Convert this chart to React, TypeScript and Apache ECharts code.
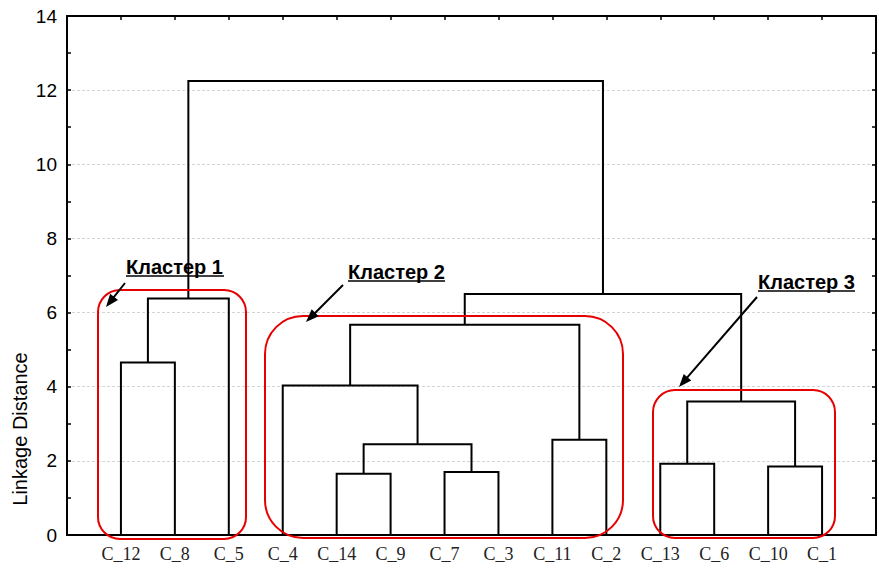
import React, { useEffect, useRef } from "react";
import * as echarts from "echarts";

const leafNames = ["C_12", "C_8", "C_5", "C_4", "C_14", "C_9", "C_7", "C_3", "C_11", "C_2", "C_13", "C_6", "C_10", "C_1"];
// merges: [leftNode, rightNode, height]; leaves are 0..13, merge k creates node 14+k
const mergeLeft = [0, 14, 4, 6, 16, 3, 8, 19, 10, 12, 22, 21, 15];
const mergeRight = [1, 2, 5, 7, 17, 18, 9, 20, 11, 13, 23, 24, 25];
const mergeHeight = [4.65, 6.38, 1.65, 1.7, 2.45, 4.03, 2.57, 5.67, 1.92, 1.85, 3.6, 6.5, 12.25];
const yTicks = [0, 2, 4, 6, 8, 10, 12, 14];
const clusterLabels = ["Кластер 1", "Кластер 2", "Кластер 3"];
const yAxisTitle = "Linkage Distance";

function buildSegments() {
  const nodeX: number[] = leafNames.map((_, i) => i);
  const nodeH: number[] = leafNames.map(() => 0);
  const segs: number[][] = [];
  for (let k = 0; k < mergeLeft.length; k++) {
    const a = mergeLeft[k], b = mergeRight[k], h = mergeHeight[k];
    segs.push([nodeX[a], nodeX[b], nodeH[a], nodeH[b], h]);
    nodeX.push((nodeX[a] + nodeX[b]) / 2);
    nodeH.push(h);
  }
  return segs;
}

function arrow(x1: number, y1: number, x2: number, y2: number) {
  const dx = x2 - x1, dy = y2 - y1;
  const len = Math.sqrt(dx * dx + dy * dy);
  const ux = dx / len, uy = dy / len;
  const hl = 13, hw = 5;
  const bx = x2 - ux * hl, by = y2 - uy * hl;
  return [
    { type: "line", z: 100, shape: { x1, y1, x2: bx + ux * 2, y2: by + uy * 2 }, style: { stroke: "#000", lineWidth: 2 } },
    {
      type: "polygon", z: 100,
      shape: { points: [[x2, y2], [bx - uy * hw, by + ux * hw], [bx + uy * hw, by - ux * hw]] },
      style: { fill: "#000" },
    },
  ];
}

function label(text: string, x: number, y: number, w: number) {
  return [
    { type: "text", z: 100, x, y, style: { text, font: "bold 20px 'Liberation Sans', Arial, sans-serif", fill: "#000", textAlign: "left", textVerticalAlign: "middle" } },
    { type: "line", z: 100, shape: { x1: x, y1: y + 9, x2: x + w, y2: y + 9 }, style: { stroke: "#000", lineWidth: 1.5 } },
  ];
}

function roundRect(x: number, y: number, w: number, h: number, r: number) {
  return { type: "rect", z: 90, shape: { x, y, width: w, height: h, r }, style: { fill: "none", stroke: "#e60000", lineWidth: 2 } };
}

export default function App() {
  const ref = useRef<HTMLDivElement>(null);
  useEffect(() => {
    document.body.style.margin = "0";
    const chart = echarts.init(ref.current!, null, { renderer: "svg" });
    const segs = buildSegments();
    const yAxisCommon = {
      type: "value", min: 0, max: 14, interval: 2,
      axisLine: { show: true, onZero: false, lineStyle: { color: "#000", width: 2 } },
      axisTick: { show: true, inside: true, length: 4, lineStyle: { color: "#000", width: 1.5 } },
      minorTick: { show: true, splitNumber: 2, length: 4, lineStyle: { color: "#000", width: 1.5 } },
    };
    chart.setOption({
      animation: false,
      backgroundColor: "#fff",
      grid: { left: 67, top: 16, right: 1, bottom: 33, containLabel: false },
      xAxis: [
        {
          type: "value", min: -1, max: 14, interval: 1, position: "bottom",
          axisLine: { show: true, onZero: false, lineStyle: { color: "#000", width: 2 } },
          axisTick: { show: false },
          splitLine: { show: false },
          axisLabel: {
            margin: 10, color: "#222", fontFamily: "'Liberation Serif', 'Times New Roman', serif", fontSize: 18,
            showMinLabel: true, showMaxLabel: true,
            formatter: (v: number) => (v >= 0 && v < leafNames.length ? leafNames[v] : ""),
          },
        },
        {
          type: "value", min: -1, max: 14, interval: 1, position: "top",
          axisLine: { show: true, onZero: false, lineStyle: { color: "#000", width: 2 } },
          axisTick: { show: true, inside: true, length: 4, lineStyle: { color: "#000", width: 1.5 } },
          axisLabel: { show: false },
          splitLine: { show: false },
        },
      ],
      yAxis: [
        {
          ...yAxisCommon, position: "left",
          axisLabel: { margin: 10, color: "#000", fontFamily: "'Liberation Sans', Arial, sans-serif", fontSize: 19, formatter: (v: number) => (yTicks.includes(v) ? String(v) : "") },
          splitLine: { show: true, lineStyle: { color: "#d4d4d4", width: 1, type: [3, 2] } },
        },
        {
          ...yAxisCommon, position: "right",
          axisLabel: { show: false },
          splitLine: { show: false },
        },
      ],
      series: [
        {
          type: "custom",
          xAxisIndex: 0, yAxisIndex: 0,
          data: segs,
          encode: { x: [0, 1], y: [2, 3, 4] },
          renderItem: (params: any, api: any) => {
            const x1 = api.value(0), x2 = api.value(1), h1 = api.value(2), h2 = api.value(3), h = api.value(4);
            const pts = [api.coord([x1, h1]), api.coord([x1, h]), api.coord([x2, h]), api.coord([x2, h2])];
            return { type: "polyline", shape: { points: pts }, style: { stroke: "#000", lineWidth: 2, fill: "none" } };
          },
        },
      ],
      graphic: [
        {
          type: "text", x: 20, y: 429, rotation: Math.PI / 2,
          style: { text: yAxisTitle, font: "20px 'Liberation Sans', Arial, sans-serif", fill: "#000", textAlign: "center", textVerticalAlign: "middle" },
        },
        roundRect(98, 290, 148, 249, 22),
        roundRect(265, 316, 358, 222, 38),
        roundRect(653, 390, 182, 148, 22),
        ...label(clusterLabels[0], 126, 267, 98),
        ...label(clusterLabels[1], 348, 272, 97),
        ...label(clusterLabels[2], 758, 282, 97),
        ...arrow(125, 283, 106, 307),
        ...arrow(343, 285, 306, 322),
        ...arrow(757, 297, 679, 387),
      ],
    });
    return () => chart.dispose();
  }, []);
  return <div ref={ref} style={{ width: 879, height: 568 }} />;
}
